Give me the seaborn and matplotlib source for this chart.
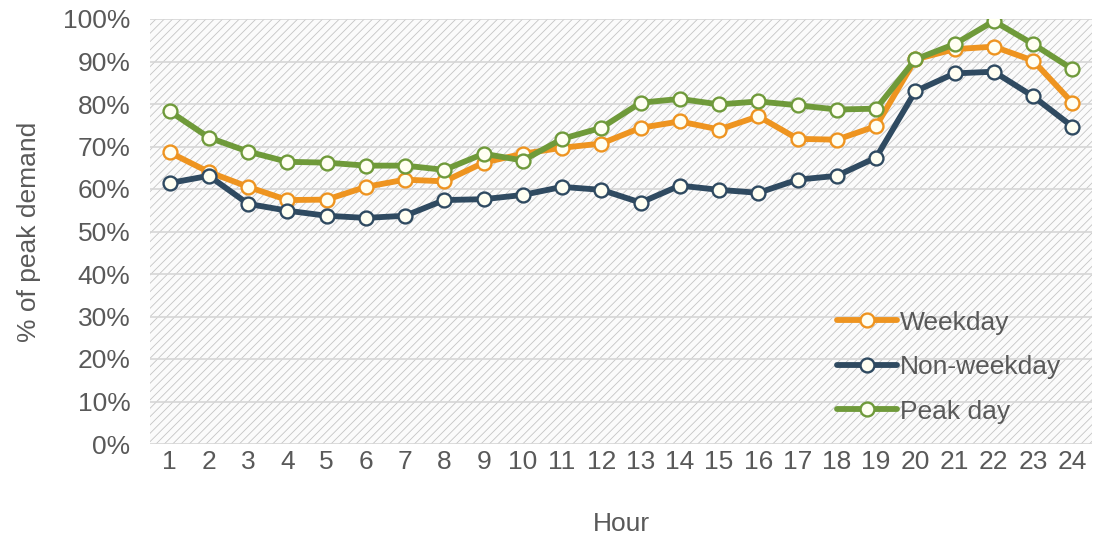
import numpy as np
import pandas as pd
import seaborn as sns
import matplotlib.pyplot as plt
from matplotlib.patches import Rectangle
from matplotlib.ticker import FuncFormatter

# hourly demand as % of peak
hours = list(range(1, 25))
weekday = [68.6, 64.0, 60.5, 57.4, 57.5, 60.5, 62.2, 61.8, 66.2, 68.3, 69.7, 70.7,
           74.4, 75.9, 74.0, 77.1, 71.8, 71.6, 74.8, 90.5, 92.9, 93.5, 90.2, 80.3]
non_weekday = [61.4, 63.1, 56.5, 54.9, 53.7, 53.2, 53.7, 57.4, 57.6, 58.6, 60.5, 59.8,
               56.8, 60.8, 59.8, 59.1, 62.2, 63.1, 67.4, 83.0, 87.2, 87.6, 81.8, 74.7]
peak_day = [78.3, 72.1, 68.8, 66.4, 66.2, 65.5, 65.5, 64.5, 68.3, 66.7, 71.8, 74.4,
            80.3, 81.2, 79.9, 80.6, 79.7, 78.7, 78.9, 90.5, 94.1, 99.5, 94.1, 88.2]

series = ['Weekday', 'Non-weekday', 'Peak day']
colors = {'Weekday': '#EE9420', 'Non-weekday': '#2F4A61', 'Peak day': '#6F9A3A'}

df = pd.DataFrame({'Hour': hours, 'Weekday': weekday,
                   'Non-weekday': non_weekday, 'Peak day': peak_day})
long_df = df.melt(id_vars='Hour', var_name='series', value_name='pct')

sns.set_style('white')
plt.rcParams['font.family'] = ['Liberation Sans', 'DejaVu Sans']
plt.rcParams['hatch.color'] = '#C4C4C4'
plt.rcParams['hatch.linewidth'] = 0.6

fig, ax = plt.subplots(figsize=(11.09, 5.4), dpi=100)
fig.subplots_adjust(left=150/1109, right=1092/1109, top=1-19/540, bottom=1-444/540)

# hatched plot background
ax.add_patch(Rectangle((0, 0), 1, 1, transform=ax.transAxes, facecolor='#FBFBFB',
                       edgecolor='#C4C4C4', hatch='////', linewidth=0, zorder=0))

for s in series:
    sub = long_df[long_df['series'] == s]
    sns.lineplot(data=sub, x='Hour', y='pct', ax=ax, color=colors[s], label=s,
                 linewidth=4.2, marker='o', markersize=10,
                 markerfacecolor='#FFFFF2', markeredgecolor=colors[s],
                 markeredgewidth=1.7, zorder=3)

ax.set_xlim(0.5, 24.5)
ax.set_ylim(0, 100)
ax.set_yticks(np.arange(0, 101, 10))
ax.set_xticks(hours)
ax.yaxis.set_major_formatter(FuncFormatter(lambda v, p: f'{v:.0f}%'))
ax.grid(axis='y', color='#D6D6D6', linewidth=1.2, zorder=1)
ax.set_axisbelow(True)
for sp in ax.spines.values():
    sp.set_visible(False)

ax.tick_params(axis='both', labelsize=19, colors='#595959', length=0)
ax.tick_params(axis='x', pad=4)
ax.tick_params(axis='y', pad=14)
ax.set_xlabel('Hour', fontsize=19, color='#595959', labelpad=28)
ax.set_ylabel('% of peak demand', fontsize=19, color='#595959', labelpad=16)

ax.legend(loc='upper left', bbox_to_anchor=(0.729, 0.314), frameon=False,
          fontsize=19, labelcolor='#595959', handlelength=2.3,
          handletextpad=0.1, labelspacing=0.78, borderaxespad=0, borderpad=0)

fig.savefig('out.png', dpi=100)
